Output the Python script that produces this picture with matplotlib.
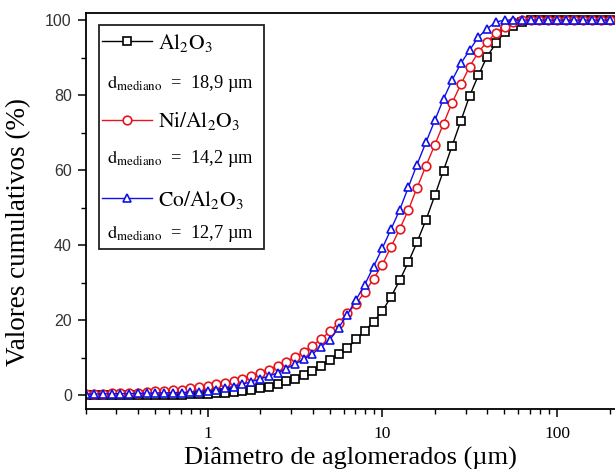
import matplotlib
matplotlib.use("Agg")
import matplotlib.pyplot as plt
from matplotlib.patches import Rectangle

plt.rcParams['mathtext.fontset'] = 'stix'

# ---- data ----
diam = [0.2, 0.224, 0.251, 0.282, 0.316, 0.355, 0.398, 0.447, 0.501, 0.562,
        0.631, 0.708, 0.794, 0.891, 1.0, 1.12, 1.26, 1.41, 1.58, 1.78,
        2.0, 2.24, 2.51, 2.82, 3.16, 3.55, 3.98, 4.47, 5.01, 5.62,
        6.31, 7.08, 7.94, 8.91, 10.0, 11.2, 12.6, 14.1, 15.8, 17.8,
        20.0, 22.4, 25.1, 28.2, 31.6, 35.5, 39.8, 44.7, 50.1, 56.2,
        63.1, 70.8, 79.4, 89.1, 100, 112, 126, 141, 158, 178, 200]

al2o3 = [0, 0, 0, 0, 0, 0, 0, 0, 0, 0.05,
         0.1, 0.15, 0.2, 0.3, 0.4, 0.5, 0.7, 0.9, 1.1, 1.4,
         1.8, 2.3, 3.0, 3.7, 4.4, 5.4, 6.5, 7.8, 9.4, 10.9,
         12.5, 14.9, 17.1, 19.6, 22.4, 26.2, 30.7, 35.5, 40.8, 46.8,
         53.3, 59.9, 66.5, 73.2, 79.8, 85.3, 90.3, 93.8, 96.8, 98.4,
         99.5, 100, 100, 100, 100, 100, 100, 100, 100, 100, 100]

ni_al2o3 = [0.3, 0.35, 0.4, 0.45, 0.5, 0.6, 0.7, 0.85, 1.0, 1.15,
            1.3, 1.5, 1.8, 2.1, 2.5, 2.9, 3.3, 3.8, 4.4, 5.1,
            5.9, 6.8, 7.8, 8.9, 10.2, 11.6, 13.2, 15.0, 17.0, 19.3,
            21.8, 24.4, 27.5, 31.0, 34.8, 39.5, 44.4, 49.4, 55.3, 61.2,
            66.8, 72.4, 78.0, 82.9, 87.6, 91.5, 94.2, 96.6, 98.3, 99.5,
            100, 100, 100, 100, 100, 100, 100, 100, 100, 100, 100]

co_al2o3 = [0.3, 0.3, 0.35, 0.35, 0.4, 0.4, 0.45, 0.5, 0.55, 0.6,
            0.65, 0.7, 0.8, 0.9, 1.1, 1.4, 1.9, 2.3, 2.9, 3.6,
            4.3, 5.1, 5.9, 7.1, 8.3, 9.6, 11.0, 12.9, 14.8, 18.0,
            21.5, 25.5, 29.5, 34.3, 39.2, 44.2, 49.5, 55.5, 61.5, 67.5,
            73.3, 79.0, 84.0, 88.5, 92.0, 95.5, 97.7, 99.5, 100, 100,
            100, 100, 100, 100, 100, 100, 100, 100, 100, 100, 100]

series_labels = [r'$\mathrm{Al_2O_3}$', r'$\mathrm{Ni/Al_2O_3}$', r'$\mathrm{Co/Al_2O_3}$']
median_texts = ['18,9', '14,2', '12,7']
x_ticks = [1, 10, 100]
x_tick_labels = ['1', '10', '100']
y_ticks = [0, 20, 40, 60, 80, 100]

# ---- figure ----
W, H = 615, 476
fig = plt.figure(figsize=(W / 100, H / 100), dpi=100)
ax = fig.add_axes([85.7 / W, (H - 409) / H, (W - 85.7) / W, (409 - 13) / H])

serif = 'Liberation Serif'
sans = 'Liberation Sans'

styles = [dict(color='black', marker='s'),
          dict(color='#e8141c', marker='o'),
          dict(color='#1010e8', marker='^')]
handles = []
for ys, st in zip([al2o3, ni_al2o3, co_al2o3], styles):
    h, = ax.plot(diam, ys, color=st['color'], marker=st['marker'], lw=1.0,
                 ms=6.2, mfc='white', mec=st['color'], mew=1.2)
    handles.append(h)

ax.set_xscale('log')
ax.set_xlim(0.2, 215)
ax.set_ylim(-3.7, 101.9)

ax.set_xticks(x_ticks)
ax.set_xticklabels(x_tick_labels)
ax.set_yticks(y_ticks)
ax.set_yticks([10, 30, 50, 70, 90], minor=True)

for lab in ax.get_xticklabels():
    lab.set_fontfamily(serif)
    lab.set_fontsize(12.5)
for lab in ax.get_yticklabels():
    lab.set_fontfamily(sans)
    lab.set_fontsize(11.5)
    lab.set_color('#333333')

ax.tick_params(which='major', direction='out', length=6, width=1.1, pad=4)
ax.tick_params(axis='x', which='major', pad=6)
ax.tick_params(which='minor', direction='out', length=3.5, width=1.0)
ax.tick_params(axis='x', which='both', top=False)

for s in ['left', 'bottom', 'top']:
    ax.spines[s].set_linewidth(1.3)
ax.spines['right'].set_visible(False)

ax.set_xlabel('Diâmetro de aglomerados (µm)', fontfamily=serif, fontsize=19, labelpad=4)
ax.set_ylabel('Valores cumulativos (%)', fontfamily=serif, fontsize=19.5)
ax.yaxis.set_label_coords((31 - 85.7) / (W - 85.7), (409 - 232) / (409 - 13))

# legend
leg = fig.legend(handles, series_labels, loc='upper left',
                 bbox_to_anchor=(102 / W, 1 - 32 / H), frameon=False,
                 prop={'family': serif, 'size': 15.5}, handlelength=2.3,
                 handletextpad=0.3, labelspacing=2.62, borderpad=0, borderaxespad=0)
fig.patches.append(Rectangle((99 / W, 1 - 249 / H), 165 / W, 224 / H,
                             transform=fig.transFigure, fill=False,
                             ec='#222222', lw=1.3))
for i, t in enumerate(median_texts):
    yp = [84, 159, 233][i]
    fig.text(107 / W, 1 - yp / H,
             r'$\mathrm{d}_{\mathrm{mediano}}$' + '  =  ' + t + ' µm',
             fontfamily=serif, fontsize=13.2, va='center', ha='left')

fig.savefig('out.png', dpi=100)
